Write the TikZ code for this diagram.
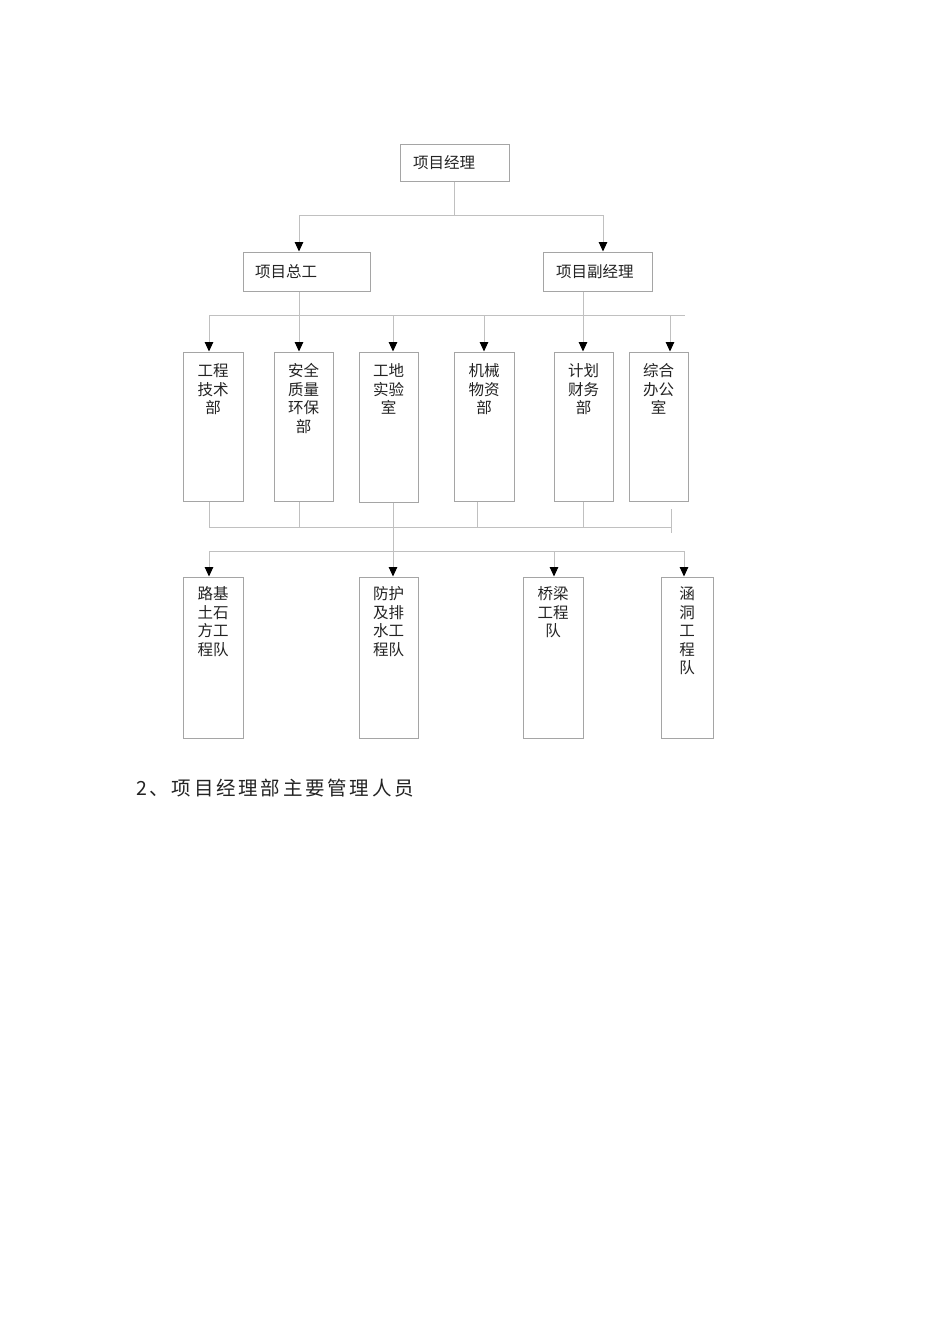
\documentclass[tikz,border=0pt]{standalone}
\usepackage{fontspec}
\setmainfont{Noto Sans CJK SC}
\usetikzlibrary{arrows.meta}
\definecolor{lncol}{RGB}{192,192,192}
\definecolor{bxcol}{RGB}{165,165,165}
\definecolor{txcol}{RGB}{35,35,35}
\begin{document}
\begin{tikzpicture}[x=1pt,y=-1pt,
  box/.style={draw=bxcol, line width=1pt, inner sep=0pt},
  hbox/.style={box, align=left, inner ysep=0pt, text=txcol, font=\fontsize{15.5}{18.5}\selectfont},
  vtext/.style={font=\fontsize{15.5}{18.5}\selectfont, text=txcol, align=center, inner sep=0pt, anchor=north},
  conn/.style={draw=lncol, line width=1pt},
  arr/.style={conn, -{Triangle[width=8.5pt,length=9.5pt,color=black]}},
]
\useasboundingbox[fill=white] (0,0) rectangle (950,1344);

% top level
\node[hbox, minimum width=109pt, minimum height=37pt, text width=83pt, inner xsep=13pt] (pm) at (454.5,162.5) {项目经理};
\node[hbox, minimum width=127pt, minimum height=39pt, text width=103pt, inner xsep=12pt] (zg) at (306.5,271.5) {项目总工};
\node[hbox, minimum width=109pt, minimum height=39pt, text width=83pt, inner xsep=13pt] (fj) at (597.5,271.5) {项目副经理};

% departments
\node[box, minimum width=60pt, minimum height=149pt] (d1) at (213,426.5) {};
\node[box, minimum width=59pt, minimum height=149pt] (d2) at (303.5,426.5) {};
\node[box, minimum width=59pt, minimum height=150pt] (d3) at (388.5,427) {};
\node[box, minimum width=60pt, minimum height=149pt] (d4) at (484,426.5) {};
\node[box, minimum width=59pt, minimum height=149pt] (d5) at (583.5,426.5) {};
\node[box, minimum width=59pt, minimum height=149pt] (d6) at (658.5,426.5) {};
\node[vtext] (d1t) at ([yshift=-12pt]d1.north) {工程\\技术\\部};
\node[vtext] (d2t) at ([yshift=-12pt]d2.north) {安全\\质量\\环保\\部};
\node[vtext] (d3t) at ([yshift=-12pt]d3.north) {工地\\实验\\室};
\node[vtext] (d4t) at ([yshift=-12pt]d4.north) {机械\\物资\\部};
\node[vtext] (d5t) at ([yshift=-12pt]d5.north) {计划\\财务\\部};
\node[vtext] (d6t) at ([yshift=-12pt]d6.north) {综合\\办公\\室};

% teams
\node[box, minimum width=60pt, minimum height=161pt] (t1) at (213,657.5) {};
\node[box, minimum width=59pt, minimum height=161pt] (t2) at (388.5,657.5) {};
\node[box, minimum width=60pt, minimum height=161pt] (t3) at (553,657.5) {};
\node[box, minimum width=52pt, minimum height=161pt] (t4) at (687,657.5) {};
\node[vtext] (t1t) at ([yshift=-10pt]t1.north) {路基\\土石\\方工\\程队};
\node[vtext] (t2t) at ([yshift=-10pt]t2.north) {防护\\及排\\水工\\程队};
\node[vtext] (t3t) at ([yshift=-10pt]t3.north) {桥梁\\工程\\队};
\node[vtext] (t4t) at ([yshift=-10pt]t4.north) {涵\\洞\\工\\程\\队};

% column x positions
\coordinate (c1) at (209,0);
\coordinate (c2) at (299,0);
\coordinate (c3) at (393,0);
\coordinate (c4) at (484,0);
\coordinate (c4b) at (477,0);
\coordinate (c5) at (583,0);
\coordinate (c6) at (670,0);
\coordinate (e3) at (554,0);
\coordinate (e4) at (684,0);

% level 1 bus
\coordinate (bus1L) at (299,215);
\coordinate (bus1R) at (603,215);
\draw[conn] (pm.south) -- (pm.south |- bus1L);
\draw[conn] (bus1L) -- (bus1R);
\draw[arr] (bus1L) -- (bus1L |- zg.north);
\draw[arr] (bus1R) -- (bus1R |- fj.north);

% level 2 bus
\coordinate (bus2L) at (209,315.5);
\coordinate (bus2R) at (685,315.5);
\draw[conn] (c2 |- zg.south) -- (c2 |- bus2L);
\draw[conn] (c5 |- fj.south) -- (c5 |- bus2L);
\draw[conn] (bus2L) -- (bus2R);
\foreach \c/\n in {c1/d1,c2/d2,c3/d3,c4/d4,c5/d5,c6/d6}
  \draw[arr] (\c |- bus2L) -- (\c |- \n.north);

% level 3 bus
\coordinate (bus3L) at (209,527);
\coordinate (bus3R) at (671,527);
\draw[conn] (bus3L) -- (bus3R);
\foreach \c/\n in {c1/d1,c2/d2,c4b/d4,c5/d5}
  \draw[conn] (\c |- \n.south) -- (\c |- bus3L);
\coordinate (tk1) at (671,509);
\coordinate (tk2) at (671,533);
\draw[conn] (tk1) -- (tk2);

% level 4 bus
\coordinate (bus4L) at (209,551);
\coordinate (bus4R) at (684,551);
\draw[conn] (c3 |- d3.south) -- (c3 |- bus4L);
\draw[conn] (bus4L) -- (bus4R);
\foreach \c/\n in {c1/t1,c3/t2,e3/t3,e4/t4}
  \draw[arr] (\c |- bus4L) -- (\c |- \n.north);

% caption
\node[anchor=west, inner sep=0pt, text=txcol, font=\fontsize{19.5}{21}\selectfont\addfontfeatures{LetterSpace=14}] (cap) at (136,788) {2、项目经理部主要管理人员};
\end{tikzpicture}
\end{document}
